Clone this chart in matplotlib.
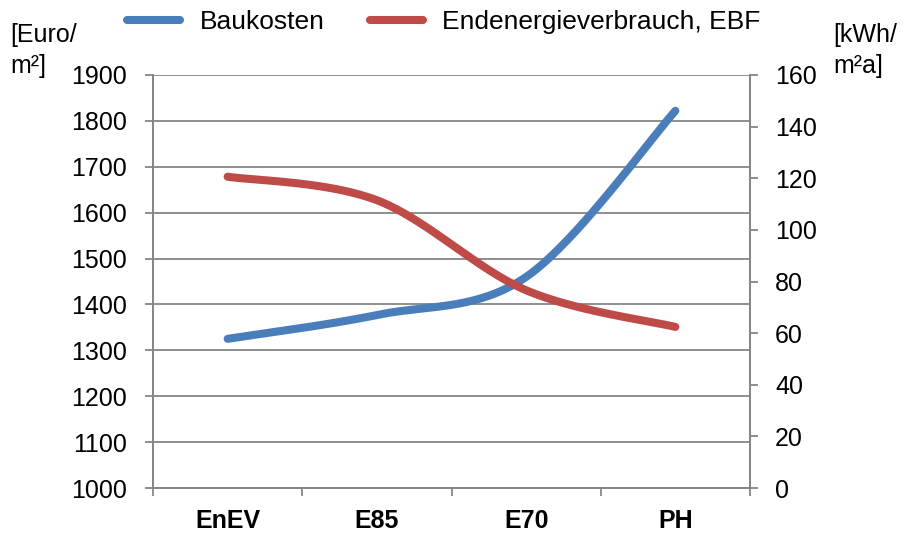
import numpy as np
import matplotlib
matplotlib.use("Agg")
import matplotlib.pyplot as plt
from matplotlib.lines import Line2D

plt.rcParams['font.family'] = ['Liberation Sans', 'DejaVu Sans']

categories = ["EnEV", "E85", "E70", "PH"]
baukosten = [1325, 1377, 1460, 1822]
endenergie = [120.6, 111.5, 76.6, 62.4]
left_ticks = list(range(1000, 2000, 100))
right_ticks = list(range(0, 180, 20))

BLUE = "#4A7EBB"
RED = "#BE4B48"
GRID = "#868686"

def smooth(xs, ys, n=60):
    p = np.column_stack([xs, ys]).astype(float)
    pts = np.vstack([p[0], p, p[-1]])
    out = []
    for i in range(1, len(pts) - 2):
        p0, p1, p2, p3 = pts[i - 1], pts[i], pts[i + 1], pts[i + 2]
        c1 = p1 + (p2 - p0) / 6.0
        c2 = p2 - (p3 - p1) / 6.0
        t = np.linspace(0, 1, n)[:, None]
        seg = ((1 - t) ** 3) * p1 + 3 * ((1 - t) ** 2) * t * c1 + 3 * (1 - t) * t ** 2 * c2 + t ** 3 * p2
        out.append(seg if i == 1 else seg[1:])
    s = np.vstack(out)
    return s[:, 0], s[:, 1]

W, H = 904, 537
fig = plt.figure(figsize=(W / 100, H / 100), dpi=100)
L, R, T, B = 153, 750, 75, 488
ax = fig.add_axes([L / W, 1 - B / H, (R - L) / W, (B - T) / H])
ax2 = ax.twinx()

x = np.arange(len(categories))
bx, by = smooth(x, baukosten)
ex, ey = smooth(x, endenergie)
ax.plot(bx, by, color=BLUE, lw=5.8, solid_capstyle='round', zorder=5)
ax2.plot(ex, ey, color=RED, lw=5.8, solid_capstyle='round', zorder=5)

ax.set_xlim(-0.5, len(categories) - 0.5)
ax.set_ylim(1000, 1900)
ax2.set_ylim(0, 160)
ax.set_yticks(left_ticks)
ax2.set_yticks(right_ticks)
ax.yaxis.grid(True, color=GRID, lw=1.3)
ax.set_axisbelow(True)

ax.set_xticks(x)
ax.set_xticklabels(categories, fontsize=18, fontweight='bold')
ax.set_xticks(np.arange(-0.5, len(categories)), minor=True)
ax.tick_params(axis='x', which='major', length=0, pad=15)
ax.tick_params(axis='x', which='minor', length=6, width=1.3, color=GRID, direction='out')
ax.tick_params(axis='y', length=6, width=1.3, color=GRID, labelsize=18, pad=13)
ax2.tick_params(axis='y', length=6, width=1.3, color=GRID, labelsize=18, pad=12)

for a in (ax, ax2):
    a.spines['top'].set_visible(False)
    for s in ('left', 'right', 'bottom'):
        a.spines[s].set_color(GRID)
        a.spines[s].set_linewidth(1.3)

handles = [Line2D([], [], color=BLUE, lw=5.8, solid_capstyle='round'),
           Line2D([], [], color=RED, lw=5.8, solid_capstyle='round')]
fig.legend(handles, ["Baukosten", "Endenergieverbrauch, EBF"], loc='center',
           bbox_to_anchor=(444 / W, 1 - 22 / H), ncol=2, frameon=False, fontsize=19,
           handlelength=2.0, handletextpad=0.75, columnspacing=1.7)

fig.text(10 / W, 1 - 35 / H, "[Euro/", fontsize=18, va='center', ha='left')
fig.text(10 / W, 1 - 66 / H, "m²]", fontsize=18, va='center', ha='left')
fig.text(833 / W, 1 - 35 / H, "[kWh/", fontsize=18, va='center', ha='left')
fig.text(833 / W, 1 - 66 / H, "m²a]", fontsize=18, va='center', ha='left')

fig.savefig("out.png", dpi=100)
